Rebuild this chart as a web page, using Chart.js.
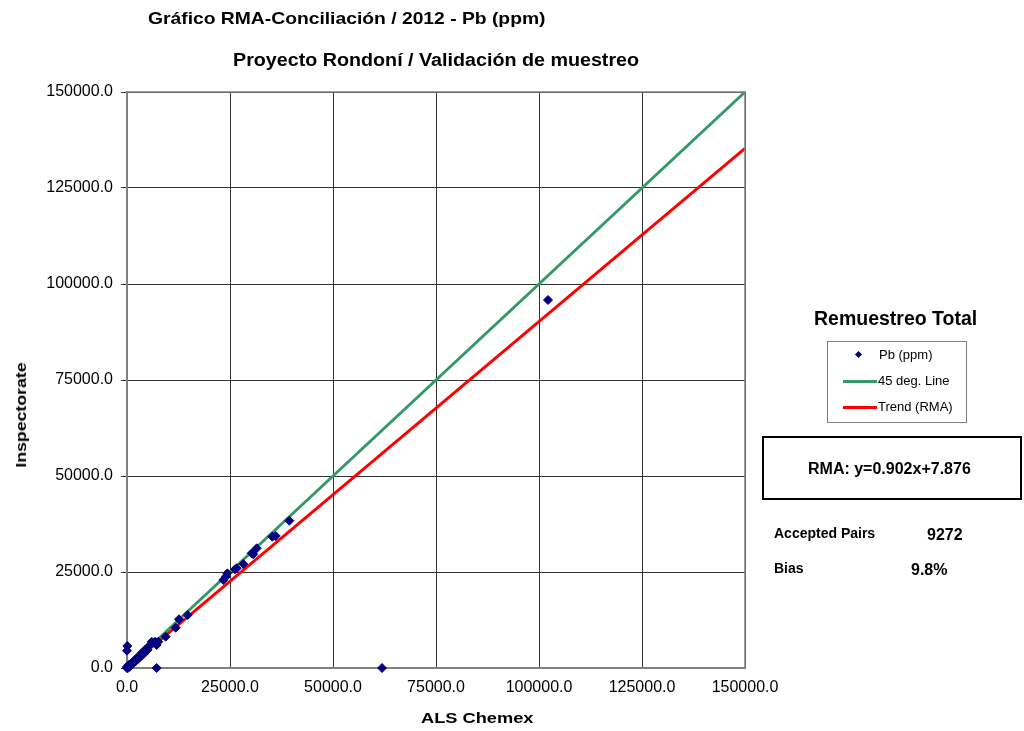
<!DOCTYPE html>
<html>
<head>
<meta charset="utf-8">
<script src="https://cdn.jsdelivr.net/npm/chart.js@4.4.1/dist/chart.umd.min.js"></script>
<style>
  body { margin: 0; background: #fff; font-family: "Liberation Sans", Arial, sans-serif; }
  #wrap { position: relative; width: 1024px; height: 731px; }
  #c { position: absolute; left: 0; top: 0; }
  .t { position: absolute; font-weight: bold; color: #000; white-space: nowrap; line-height: 1; transform-origin: 0 50%; }
  .n { position: absolute; color: #000; white-space: nowrap; font-size: 13px; line-height: 1; }
</style>
</head>
<body>
<div id="wrap">
  <canvas id="c" width="1024" height="731"></canvas>
  <div class="t" data-w="397" style="left:148px; top:10px; font-size:17px;">Gráfico RMA-Conciliación / 2012 - Pb (ppm)</div>
  <div class="t" data-w="406" style="left:233px; top:51px; font-size:18px;">Proyecto Rondoní / Validación de muestreo</div>
  <div class="t" data-w="112" style="left:421px; top:711px; font-size:14px;">ALS Chemex</div>
  <div style="position:absolute; left:21px; top:415px; width:0; height:0;">
    <div class="t" data-w="105" style="left:0; top:0; font-size:14px; transform-origin:0 0;" id="ytitle">Inspectorate</div>
  </div>

  <div class="t" style="left:814px; top:309px; font-size:19.5px;">Remuestreo Total</div>
  <div style="position:absolute; left:827px; top:341px; width:138px; height:80px; border:1px solid #808080;"></div>
  <div style="position:absolute; left:856px; top:352px; width:5px; height:5px; background:#000080; transform:rotate(45deg);"></div>
  <div class="n" style="left:879px; top:348px;">Pb (ppm)</div>
  <div style="position:absolute; left:843px; top:380px; width:34px; height:3px; background:#339966;"></div>
  <div class="n" style="left:878px; top:374px;">45 deg. Line</div>
  <div style="position:absolute; left:843px; top:406px; width:34px; height:3px; background:#ff0000;"></div>
  <div class="n" style="left:878px; top:400px;">Trend (RMA)</div>

  <div style="position:absolute; left:762px; top:436px; width:256px; height:60px; border:2px solid #000;"></div>
  <div class="t" style="left:808px; top:461px; font-size:16px;">RMA: y=0.902x+7.876</div>
  <div class="t" style="left:774px; top:526px; font-size:14px;">Accepted Pairs</div>
  <div class="t" style="left:927px; top:527px; font-size:16px;">9272</div>
  <div class="t" style="left:774px; top:561px; font-size:14px;">Bias</div>
  <div class="t" style="left:911px; top:562px; font-size:16px;">9.8%</div>
</div>
<script>
// valores
const alsX = [0, 100, 200, 0, 300, 500, 600, 400, 700, 900, 1000, 1130, 1400, 1500, 1700, 1940, 2000, 2300,
  2500, 2750, 3000, 3100, 3500, 3560, 3900, 4000, 4370, 4500, 5000, 5170, 6000, 6800, 7600, 7200,
  9390, 11810, 12620, 14730, 23380, 24030, 24350, 26210, 26620, 28230, 30260, 30660, 31480,
  35270, 36090, 39400, 102180, 80, 0, 7200, 61900];
const inspY = [0, 150, 0, 300, 250, 400, 300, 800, 650, 1000, 700, 1220, 1500, 1200, 1800, 2080, 1700, 2400,
  2200, 2950, 2700, 3300, 3200, 3830, 4200, 3600, 4690, 4200, 4700, 5550, 6850, 6850, 6850, 5990,
  8160, 10500, 12680, 13800, 22920, 23780, 24650, 25700, 25960, 27080, 29870, 29610, 31170,
  34190, 34375, 38360, 95830, 5730, 4500, 0, 0];

const lineX = [0, 150000];
const lineY = [0, 150000];
const trendX = [0, 150000];
const trendY = [7.876, 135307.876];

const axisTicks = [0, 25000, 50000, 75000, 100000, 125000, 150000];

const toXY = (xs, ys) => xs.map((x, i) => ({ x: x, y: ys[i] }));

// estirar textos al ancho medido en la imagen
document.querySelectorAll('.t[data-w]').forEach(el => {
  const k = (+el.dataset.w) / el.offsetWidth;
  if (el.id === 'ytitle') {
    el.style.transform = 'rotate(-90deg) scaleX(' + k + ') translate(-50%, -50%)';
  } else {
    el.style.transform = 'scaleX(' + k + ')';
  }
});

Chart.defaults.font.family = '"Liberation Sans", Arial, sans-serif';
Chart.defaults.color = '#000';

new Chart(document.getElementById('c').getContext('2d'), {
  type: 'scatter',
  data: {
    datasets: [
      {
        label: 'Trend (RMA)',
        type: 'line',
        data: toXY(trendX, trendY),
        borderColor: '#ff0000',
        borderWidth: 3,
        pointRadius: 0,
        order: 3
      },
      {
        label: '45 deg. Line',
        type: 'line',
        data: toXY(lineX, lineY),
        borderColor: '#339966',
        borderWidth: 3,
        pointRadius: 0,
        order: 2
      },
      {
        label: 'Pb (ppm)',
        data: toXY(alsX, inspY),
        pointStyle: 'rectRot',
        pointRadius: 4.5,
        backgroundColor: '#000080',
        borderColor: '#000080',
        borderWidth: 1,
        order: 1
      }
    ]
  },
  options: {
    responsive: false,
    animation: false,
    clip: false,
    layout: { padding: { top: 92, right: 279, left: 0, bottom: 0 } },
    plugins: {
      legend: { display: false },
      tooltip: { enabled: false }
    },
    scales: {
      x: {
        type: 'linear',
        min: 0,
        max: 150000,
        afterBuildTicks: s => { s.ticks = axisTicks.map(v => ({ value: v })); },
        afterFit: s => { s.height = 63; },
        ticks: {
          font: { size: 16 },
          padding: 10,
          maxRotation: 0,
          callback: v => v.toFixed(1)
        },
        grid: { color: '#333', tickLength: 0 },
        border: { color: '#808080', width: 2 }
      },
      y: {
        type: 'linear',
        min: 0,
        max: 150000,
        afterBuildTicks: s => { s.ticks = axisTicks.map(v => ({ value: v })); },
        afterFit: s => { s.width = 127; },
        ticks: {
          font: { size: 16 },
          padding: 8,
          callback: v => v.toFixed(1)
        },
        grid: { color: '#333', tickLength: 6 },
        border: { color: '#808080', width: 2 }
      }
    }
  },
  plugins: [{
    id: 'frame',
    afterDraw(chart) {
      const a = chart.chartArea, ctx = chart.ctx;
      ctx.save();
      ctx.strokeStyle = '#808080';
      ctx.lineWidth = 1.5;
      ctx.beginPath();
      ctx.moveTo(a.left, a.top);
      ctx.lineTo(a.right, a.top);
      ctx.lineTo(a.right, a.bottom);
      ctx.stroke();
      ctx.restore();
    }
  }]
});
</script>
</body>
</html>
